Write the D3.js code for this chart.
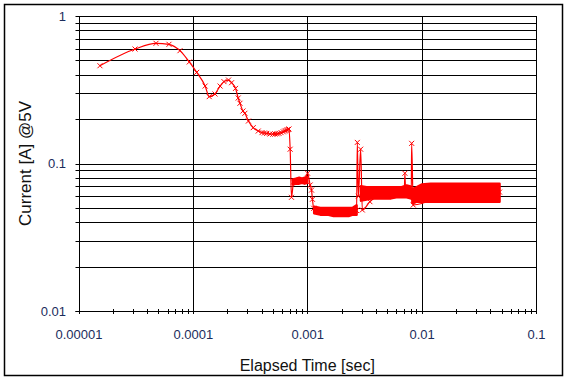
<!DOCTYPE html>
<html><head><meta charset="utf-8">
<script src="https://cdn.jsdelivr.net/npm/d3@7/dist/d3.min.js"></script>
<style>
html,body{margin:0;padding:0;background:#fff;}
svg{display:block;}
text{font-family:"Liberation Sans",Arial,sans-serif;}
</style></head>
<body>
<svg id="chart" width="570" height="381"></svg>
<script>
// ---- data ----
const timeMain = [1.54e-5,3.12e-5,4.76e-5,6.18e-5,7.71e-5,9.30e-5,1.08e-4,1.28e-4,1.39e-4,1.56e-4,
  1.73e-4,1.87e-4,2.05e-4,2.18e-4,2.36e-4,2.49e-4,2.58e-4,2.74e-4,2.85e-4,3.06e-4,
  3.37e-4,3.73e-4,4.02e-4,4.22e-4,4.42e-4,4.72e-4,5.0e-4,5.22e-4,5.45e-4,5.66e-4,5.9e-4,6.17e-4,6.35e-4,6.51e-4,6.68e-4,6.82e-4,6.92e-4,
  7.09e-4,7.28e-4,7.6e-4,8.5e-4,9.5e-4,1.007e-3,1.06e-3,1.09e-3,1.11e-3,1.14e-3,
  1.6e-3,2.2e-3,2.7e-3,2.74e-3,2.80e-3,2.93e-3,3.03e-3,3.53e-3,
  5.0e-3,7.05e-3,7.14e-3,7.25e-3,7.6e-3,8.12e-3,8.18e-3,8.45e-3,0.02,0.048];
const currentMain = [0.460,0.597,0.653,0.643,0.582,0.488,0.415,0.335,0.284,0.296,
  0.335,0.359,0.368,0.353,0.323,0.278,0.256,0.227,0.219,0.194,
  0.175,0.166,0.162,0.161,0.160,0.1585,0.158,0.1585,0.159,0.160,0.162,0.164,0.166,0.1675,0.169,0.170,0.1714,
  0.125,0.059,0.075,0.077,0.077,0.0859,0.0715,0.066,0.0572,0.0497,
  0.047,0.047,0.048,0.139,0.060,0.125,0.0484,0.0551,
  0.064,0.064,0.0859,0.064,0.064,0.064,0.137,0.0523,0.064,0.064];

// envelope of the dense noisy stretches (null separates stretches)
const bandTime = [7.5e-4,8.0e-4,8.5e-4,9.0e-4,9.5e-4,1.0e-3, null,
  1.15e-3,1.3e-3,1.5e-3,1.7e-3,1.9e-3,2.1e-3,2.3e-3,2.5e-3,2.7e-3, null,
  2.95e-3,3.3e-3,3.7e-3,4.2e-3,4.8e-3,5.4e-3,6.0e-3,6.7e-3,7.4e-3,8.0e-3, null,
  8.3e-3,9.0e-3,0.010,0.012,0.015,0.018,0.022,0.027,0.033,0.040,0.048];
const bandLow = [0.072,0.073,0.073,0.074,0.073,0.074, null,
  0.046,0.045,0.045,0.044,0.044,0.044,0.044,0.045,0.045, null,
  0.056,0.057,0.058,0.058,0.058,0.058,0.059,0.059,0.059,0.058, null,
  0.054,0.055,0.055,0.055,0.055,0.055,0.055,0.055,0.055,0.055,0.055];
const bandHigh = [0.078,0.079,0.080,0.079,0.080,0.081, null,
  0.051,0.050,0.050,0.050,0.050,0.050,0.050,0.050,0.052, null,
  0.070,0.069,0.069,0.069,0.069,0.069,0.069,0.069,0.071,0.070, null,
  0.067,0.069,0.072,0.073,0.073,0.073,0.073,0.073,0.073,0.073,0.073];

const xTickValues = [1e-5,1e-4,1e-3,1e-2,1e-1];
const xTickLabels = ["0.00001","0.0001","0.001","0.01","0.1"];
const yTickValues = [0.01,0.1,1];
const yTickLabels = ["0.01","0.1","1"];
const xTitle = "Elapsed Time [sec]";
const yTitle = "Current [A] @5V";

// ---- layout ----
const svg = d3.select("#chart");
const L = 78.5, R = 536, T = 16, B = 311;
const x = d3.scaleLog().domain([1e-5, 0.1]).range([L, R]);
const y = d3.scaleLog().domain([0.01, 1]).range([B, T]);
const red = "#ff0000", ink = "#000", labelColor = "#1b2c5c";

svg.append("rect").attr("x",4.5).attr("y",4.5).attr("width",558).attr("height",371)
  .attr("fill","#fff").attr("stroke","#000").attr("stroke-width",1.5);

// horizontal gridlines (major and minor)
const yAll = y.ticks().filter(v => v > 0.0100001);
svg.append("g").selectAll("line").data(yAll).join("line")
  .attr("x1",L).attr("x2",R)
  .attr("y1",d=>Math.round(y(d))+0.5).attr("y2",d=>Math.round(y(d))+0.5)
  .attr("stroke",ink).attr("stroke-width",1);
// vertical gridlines at decades
svg.append("g").selectAll("line").data(xTickValues.slice(1)).join("line")
  .attr("x1",d=>Math.round(x(d))+0.5).attr("x2",d=>Math.round(x(d))+0.5)
  .attr("y1",T).attr("y2",B+3)
  .attr("stroke",ink).attr("stroke-width",1);

// axes lines
svg.append("line").attr("x1",Math.round(L)+0.5).attr("x2",Math.round(L)+0.5).attr("y1",T).attr("y2",B+3).attr("stroke",ink);
svg.append("line").attr("x1",L-3).attr("x2",R).attr("y1",B+0.5).attr("y2",B+0.5).attr("stroke",ink);

// minor ticks crossing axes
const xMinor = x.ticks().filter(v => xTickValues.indexOf(v) < 0 && v < 0.1);
svg.append("g").selectAll("line").data(xMinor).join("line")
  .attr("x1",d=>Math.round(x(d))+0.5).attr("x2",d=>Math.round(x(d))+0.5)
  .attr("y1",B-2).attr("y2",B+3).attr("stroke",ink);
svg.append("g").selectAll("line").data(y.ticks()).join("line")
  .attr("x1",L-3).attr("x2",L+2)
  .attr("y1",d=>Math.round(y(d))+0.5).attr("y2",d=>Math.round(y(d))+0.5).attr("stroke",ink);

// tick labels via axis generators
const xAxis = d3.axisBottom(x).tickValues(xTickValues).tickSize(0).tickPadding(19)
  .tickFormat((d,i)=>xTickLabels[i]);
const gx = svg.append("g").attr("transform",`translate(0,${B})`).call(xAxis);
gx.select(".domain").remove();
gx.selectAll("text").attr("fill",labelColor).style("font-size","13px").style("font-family","Liberation Sans, Arial, sans-serif");

const yAxis = d3.axisLeft(y).tickValues(yTickValues).tickSize(0).tickPadding(12.5)
  .tickFormat((d,i)=>yTickLabels[i]);
const gy = svg.append("g").attr("transform",`translate(${L},0)`).call(yAxis);
gy.select(".domain").remove();
gy.selectAll("text").attr("fill",labelColor).style("font-size","13px").style("font-family","Liberation Sans, Arial, sans-serif");

// titles
svg.append("text").attr("x",(L+R)/2).attr("y",371).attr("text-anchor","middle")
  .style("font-size","16px").attr("fill","#111").text(xTitle);
svg.append("text").attr("transform",`translate(31,${(T+B)/2}) rotate(-90)`).attr("text-anchor","middle")
  .style("font-size","17px").attr("fill","#111").text(yTitle);

// noisy band (envelope)
const bandData = bandTime.map((t,i)=>({t, lo:bandLow[i], hi:bandHigh[i]}));
const area = d3.area().defined(d=>d.t!==null)
  .x(d=>x(d.t)).y0(d=>y(d.lo)).y1(d=>y(d.hi));
svg.append("path").datum(bandData).attr("d",area).attr("fill",red).attr("stroke",red).attr("stroke-width",2.5).attr("stroke-linejoin","round");

// main trace
const pts = timeMain.map((t,i)=>({t, v:currentMain[i]}));
const line = d3.line().curve(d3.curveMonotoneX).x(d=>x(d.t)).y(d=>y(d.v));
svg.append("path").datum(pts).attr("d",line).attr("fill","none").attr("stroke",red).attr("stroke-width",1.2);

// x markers
const cross = (g, px, py) => {
  const s = 2.5;
  g.append("path").attr("d",`M${px-s},${py-s}L${px+s},${py+s}M${px-s},${py+s}L${px+s},${py-s}`)
    .attr("stroke",red).attr("stroke-width",1).attr("fill","none");
};
const mg = svg.append("g");
pts.forEach(d => cross(mg, x(d.t), y(d.v)));
</script>
</body></html>
